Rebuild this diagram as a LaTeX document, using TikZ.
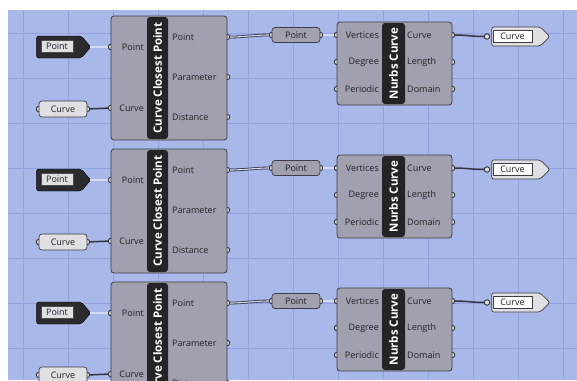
\documentclass[tikz,border=0pt]{standalone}
\usepackage{fontspec}
\setmainfont{Open Sans}
\usepackage{xcolor}
\usepackage{tikz}
\usetikzlibrary{shapes.symbols}

\definecolor{canvas}{RGB}{168,184,232}
\definecolor{gridcol}{RGB}{146,163,222}
\definecolor{compfill}{RGB}{160,160,174}
\definecolor{compline}{RGB}{62,62,70}
\definecolor{stripcol}{RGB}{36,36,38}
\definecolor{darkparam}{RGB}{44,44,46}
\definecolor{lightfill}{RGB}{224,224,226}
\definecolor{wirecol}{RGB}{48,52,66}
\definecolor{txtcol}{RGB}{34,34,40}
\newcommand{\lblfont}{\fontsize{9}{10}\selectfont}
\newcommand{\stripfont}{\bfseries\fontsize{11.5}{12}\selectfont}

\begin{document}
\begin{tikzpicture}[x=1pt, y=-1pt,
    gridline/.style={draw=gridcol, line width=0.6pt},
    port/.style={circle, draw=wirecol, fill=white!75!gray, line width=0.9pt, inner sep=0pt, minimum size=5.5pt},
    comp/.style={draw=compline, fill=compfill, rounded corners=3pt, line width=0.8pt, inner sep=0pt},
    strip/.style={fill=stripcol, rounded corners=3pt, inner sep=0pt, text=white, font=\stripfont, rotate=90},
    inlbl/.style={anchor=east, inner sep=0pt, text=txtcol, font=\lblfont},
    outlbl/.style={anchor=west, inner sep=0pt, text=txtcol, font=\lblfont},
    srcparam/.style={signal, signal to=east, signal pointer angle=100, draw=black, fill=darkparam, rounded corners=2pt, inner sep=0pt, minimum width=54pt, minimum height=22pt},
    srclbl/.style={draw=gray!60!black, fill=lightfill, inner sep=0pt, minimum width=32pt, minimum height=12pt, text=txtcol, font=\lblfont},
    lightparam/.style={draw=compline, fill=lightfill, rounded corners=3pt, line width=0.7pt, inner sep=0pt, minimum width=48pt, minimum height=16pt, text=txtcol, font=\lblfont},
    midparam/.style={draw=compline, fill=compfill, rounded corners=3pt, line width=0.7pt, inner sep=0pt, minimum width=48pt, minimum height=15pt, text=txtcol, font=\lblfont},
    sinkparam/.style={signal, signal to=east, signal pointer angle=90, draw=compline, fill=lightfill, rounded corners=2pt, line width=0.7pt, inner sep=0pt, minimum width=58pt, minimum height=19pt},
    sinklbl/.style={draw=compline, fill=white, inner sep=0pt, line width=0.6pt, minimum width=39pt, minimum height=12pt, text=txtcol, font=\lblfont},
    wire1/.style={draw=wirecol, line width=1.5pt},
    wire2/.style={draw=wirecol, line width=0.8pt, double=canvas!50!white, double distance=1.1pt}]
    \useasboundingbox (0,0) rectangle (577,380);
    \fill[white] (0,0) rectangle (577,380);

    \begin{scope}
    \clip (8,10) rectangle (577,380);
    % Canvas and grid
    \fill[canvas] (8,10) rectangle (577,380);
    \foreach \gx in {23,68,...,563} \draw[gridline] (\gx,10) -- (\gx,380);
    \foreach \gy in {33,78,...,348} \draw[gridline] (8,\gy) -- (577,\gy);

    \foreach \r/\dy in {1/0,2/133,3/266} {
      % Point source parameter
      \node[port] (ptsrc\r-o) at (87,47+\dy) {};
      \node[srcparam] (ptsrc\r) at (59,47+\dy) {};
      \node[srclbl] (ptsrclbl\r) at (57,46.5+\dy) {Point};

      % Curve source parameter
      \node[port] (crvsrc\r-i) at (39,109+\dy) {};
      \node[port] (crvsrc\r-o) at (87,109+\dy) {};
      \node[lightparam] (crvsrc\r) at (63,109+\dy) {Curve};

      % Curve Closest Point component
      \node[port] (ccp\r-ipt) at (111,47+\dy) {};
      \node[port] (ccp\r-icrv) at (111,108+\dy) {};
      \node[port] (ccp\r-opt) at (227,37+\dy) {};
      \node[port] (ccp\r-oprm) at (227,77+\dy) {};
      \node[port] (ccp\r-odst) at (227,117+\dy) {};
      \node[comp, minimum width=116pt, minimum height=124pt] (ccp\r) at (169,78+\dy) {};
      \node[strip, minimum width=122pt, minimum height=21pt] (ccpname\r) at (157.5,78+\dy) {Curve Closest Point};
      \node[inlbl] (ccplpt\r) at (144,47+\dy) {Point};
      \node[inlbl] (ccplcrv\r) at (144,108+\dy) {Curve};
      \node[outlbl] (ccplopt\r) at (172,37+\dy) {Point};
      \node[outlbl] (ccplprm\r) at (172,77+\dy) {Parameter};
      \node[outlbl] (ccpldst\r) at (172,117+\dy) {Distance};

      % Point relay parameter
      \node[port] (ptmid\r-i) at (272,35+\dy) {};
      \node[port] (ptmid\r-o) at (320,35+\dy) {};
      \node[midparam] (ptmid\r) at (296,35+\dy) {Point};

      % Nurbs Curve component
      \node[port] (nc\r-ivtx) at (337,35+\dy) {};
      \node[port] (nc\r-ideg) at (337,62+\dy) {};
      \node[port] (nc\r-iper) at (337,89+\dy) {};
      \node[port] (nc\r-ocrv) at (452,35+\dy) {};
      \node[port] (nc\r-olen) at (452,62+\dy) {};
      \node[port] (nc\r-odom) at (452,89+\dy) {};
      \node[comp, minimum width=115pt, minimum height=83pt] (nc\r) at (394.5,63.5+\dy) {};
      \node[strip, minimum width=81pt, minimum height=23pt] (ncname\r) at (393.5,63.5+\dy) {Nurbs Curve};
      \node[inlbl] (nclvtx\r) at (379,35+\dy) {Vertices};
      \node[inlbl] (ncldeg\r) at (379,62+\dy) {Degree};
      \node[inlbl] (nclper\r) at (379,89+\dy) {Periodic};
      \node[outlbl] (nclcrv\r) at (407,35+\dy) {Curve};
      \node[outlbl] (ncllen\r) at (407,62+\dy) {Length};
      \node[outlbl] (ncldom\r) at (407,89+\dy) {Domain};

      % Curve sink parameter
      \node[port] (crvout\r-i) at (487,36.5+\dy) {};
      \node[sinkparam] (crvout\r) at (516,36.5+\dy) {};
      \node[sinklbl] (crvoutlbl\r) at (512.5,36.5+\dy) {Curve};

      % Wires
      \draw[wire2] (ptsrc\r-o) -- (ccp\r-ipt);
      \draw[wire1] (crvsrc\r-o) -- (ccp\r-icrv);
      \draw[wire2] (ccp\r-opt) to[out=0, in=180] (ptmid\r-i);
      \draw[wire2] (ptmid\r-o) -- (nc\r-ivtx);
      \draw[wire1] (nc\r-ocrv) to[out=0, in=180] (crvout\r-i);
    }
    \end{scope}
\end{tikzpicture}
\end{document}
